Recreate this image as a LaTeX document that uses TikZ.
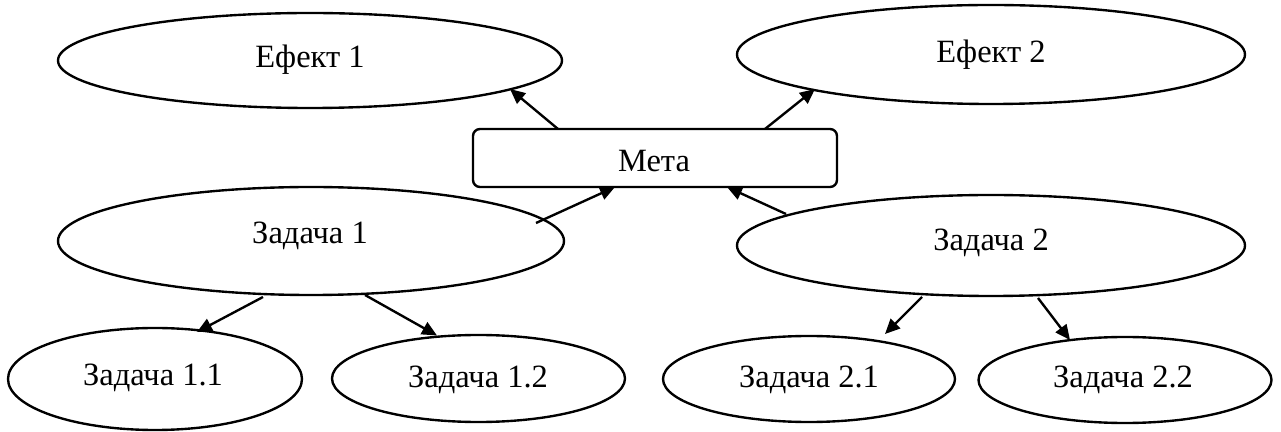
\documentclass[tikz,border=0pt]{standalone}
\usepackage{fontspec}
\setmainfont{Liberation Serif}
\usetikzlibrary{shapes.geometric,arrows.meta,calc}
\begin{document}
\begin{tikzpicture}[x=0.4pt,y=-0.4pt,
  ell/.style 2 args={draw, ellipse, line width=0.95pt, inner sep=0pt, outer sep=0pt,
    minimum width=#1*0.4pt, minimum height=#2*0.4pt},
  goalbox/.style={draw, rectangle, rounded corners=2.8pt, line width=0.95pt, inner sep=0pt,
    outer sep=0pt, minimum width=145.6pt, minimum height=23.2pt},
  txt/.style={anchor=base, inner sep=0pt, font=\fontsize{13}{15}\selectfont},
  arr/.style={line width=0.95pt, -{Triangle[length=6pt,width=5.4pt]}}]
\useasboundingbox (0,0) rectangle (1281,432);
% shapes
\node[ell={504}{95}]  (e1)  at (310,60.5) {};
\node[ell={508}{99}]  (e2)  at (991,54.5) {};
\node[goalbox]        (meta) at (655,158) {};
\node[ell={506}{108}] (z1)  at (311,241) {};
\node[ell={508}{101}] (z2)  at (991,245.5) {};
\node[ell={294}{102}] (z11) at (155,379) {};
\node[ell={293}{87}]  (z12) at (478.5,378.5) {};
\node[ell={292}{86}]  (z21) at (809,379) {};
\node[ell={293}{86}]  (z22) at (1125,380) {};
% texts
\node[txt] (te1)  at (310,68)  {Ефект 1};
\node[txt] (te2)  at (991,63)  {Ефект 2};
\node[txt] (tm)   at (654,172) {Мета};
\node[txt] (tz1)  at (310,244) {Задача 1};
\node[txt] (tz2)  at (991,251) {Задача 2};
\node[txt] (tz11) at (153,386) {Задача 1.1};
\node[txt] (tz12) at (478,388) {Задача 1.2};
\node[txt] (tz21) at (809,388) {Задача 2.1};
\node[txt] (tz22) at (1123,388) {Задача 2.2};
% connectors
\draw[arr] ($(meta.north west)+(85,0)$)  -- ($(e1.center)+(200,28.5)$);
\draw[arr] ($(meta.north west)+(292,0)$) -- ($(e2.center)+(-176,34.5)$);
\draw[arr] ($(z1.center)+(225,-18)$)     -- ($(meta.south west)+(142,0)$);
\draw[arr] ($(z2.center)+(-205,-31.5)$)  -- ($(meta.south west)+(254,0)$);
\draw[arr] ($(z1.center)+(-48,56)$)      -- ($(z11.center)+(42,-47)$);
\draw[arr] ($(z1.center)+(54,54)$)       -- ($(z12.center)+(-41.5,-43)$);
\draw[arr] ($(z2.center)+(-69,51.5)$)    -- ($(z21.center)+(76,-45)$);
\draw[arr] ($(z2.center)+(47,52.5)$)     -- ($(z22.center)+(-55,-40)$);
\end{tikzpicture}
\end{document}
